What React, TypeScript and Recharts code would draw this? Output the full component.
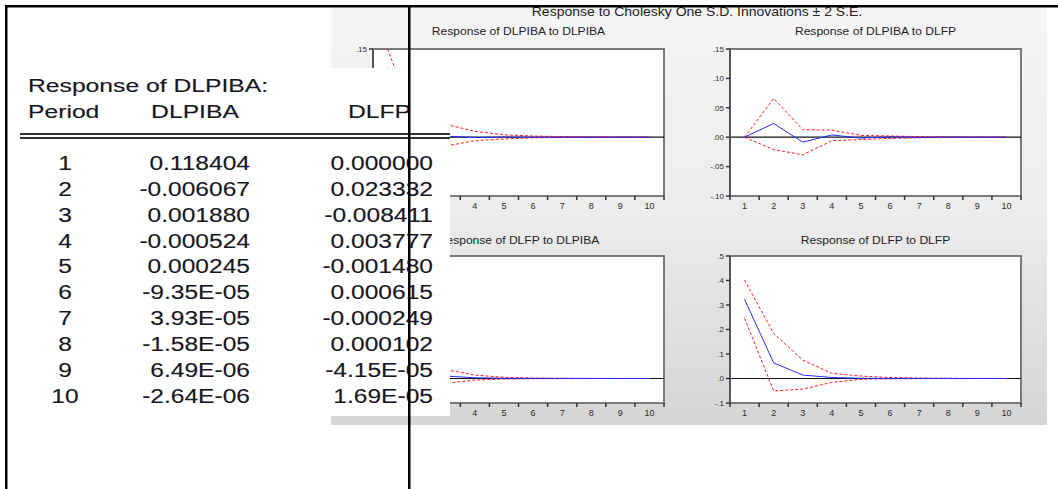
import React from 'react'
import { CartesianGrid, Line, LineChart, ReferenceArea, ReferenceLine, XAxis, YAxis } from 'recharts'

const periods = [1, 2, 3, 4, 5, 6, 7, 8, 9, 10]

// Response of DLPIBA (table columns, also the blue lines of the top row)
const dlpibaToDlpiba = [0.118404, -0.006067, 0.00188, -0.000524, 0.000245, -9.35e-5, 3.93e-5, -1.58e-5, 6.49e-6, -2.64e-6]
const dlpibaToDlfp = [0.0, 0.023332, -0.008411, 0.003777, -0.00148, 0.000615, -0.000249, 0.000102, -4.15e-5, 1.69e-5]

// +/- 2 S.E. bands
const dlpibaToDlpibaHi = [0.15, 0.022, 0.022, 0.01, 0.004, 0.002, 0.001, 0.0005, 0.0002, 0.0001]
const dlpibaToDlpibaLo = [0.086, -0.03, -0.015, -0.006, -0.003, -0.001, -0.0005, -0.0002, -0.0001, -0.0001]
const dlpibaToDlfpHi = [0.0, 0.066, 0.013, 0.012, 0.003, 0.002, 0.001, 0.0005, 0.0003, 0.0001]
const dlpibaToDlfpLo = [0.0, -0.021, -0.03, -0.006, -0.004, -0.002, -0.001, -0.0005, -0.0003, -0.0001]

const dlfpToDlpiba = [0.062, 0.04, 0.01, 0.003, 0.001, 0.0004, 0.0002, 0.0001, 0.0, 0.0]
const dlfpToDlpibaHi = [0.15, 0.1, 0.036, 0.014, 0.005, 0.002, 0.001, 0.0005, 0.0002, 0.0001]
const dlfpToDlpibaLo = [-0.02, -0.012, -0.02, -0.006, -0.002, -0.001, -0.0005, -0.0002, -0.0001, -0.0001]
const dlfpToDlfp = [0.323, 0.064, 0.014, 0.004, 0.001, 0.0004, 0.0002, 0.0001, 0.0, 0.0]
const dlfpToDlfpHi = [0.402, 0.184, 0.075, 0.021, 0.01, 0.004, 0.002, 0.001, 0.0005, 0.0002]
const dlfpToDlfpLo = [0.246, -0.051, -0.043, -0.016, -0.003, -0.001, -0.0005, -0.0002, -0.0001, 0.0]

const dlpibaTicks = [-0.1, -0.05, 0, 0.05, 0.1, 0.15]
const dlfpTicks = [-0.1, 0, 0.1, 0.2, 0.3, 0.4, 0.5]

const mainTitle = 'Response to Cholesky One S.D. Innovations \u00b1 2 S.E.'
const tableTitle = 'Response of DLPIBA:'
const tableHeaders = ['Period', 'DLPIBA', 'DLFP']

const PLOT_W = 291
const PLOT_H = 147
const PAD_L = 40
const PAD_R = 4
const PAD_T = 4
const PAD_B = 24
const FRAME = '#7a7a7a'
const FONT = '"Liberation Sans", Arial, sans-serif'
const INK = '#17171f'

const xTicks = [...periods.flatMap(p => [p - 0.5, p]), periods[periods.length - 1] + 0.5]

function fmtAxis(digits: number) {
  return (v: number) => Number(v).toFixed(digits).replace('0.', '.')
}

function fmtCell(v: number): string {
  if (v === 0 || Math.abs(v) >= 1e-4) return v.toFixed(6)
  const [m, e] = v.toExponential(2).split('e')
  const n = Number(e)
  return `${m}E${n < 0 ? '-' : '+'}${String(Math.abs(n)).padStart(2, '0')}`
}

function PeriodTick(props: any) {
  const { x, y, payload } = props
  const v = Number(payload.value)
  if (Number.isInteger(v)) {
    return (
      <text x={x} y={y + 13} textAnchor="middle" fontSize={9} fill="#2a2a2a">
        {v}
      </text>
    )
  }
  return <line x1={x} y1={y} x2={x} y2={y + 4} stroke="#333" strokeWidth={1.5} />
}

type PanelProps = {
  left: number
  top: number
  resp: number[]
  hi: number[]
  lo: number[]
  ticks: number[]
  digits: number
}

function IrfPanel({ left, top, resp, hi, lo, ticks, digits }: PanelProps) {
  const data = periods.map((p, i) => ({ period: p, resp: resp[i], hi: hi[i], lo: lo[i] }))
  const domain: [number, number] = [ticks[0], ticks[ticks.length - 1]]
  return (
    <div style={{ position: 'absolute', left: left - PAD_L, top: top - PAD_T }}>
      <LineChart
        width={PLOT_W + PAD_L + PAD_R}
        height={PLOT_H + PAD_T + PAD_B}
        data={data}
        margin={{ top: PAD_T, right: PAD_R, bottom: 0, left: 0 }}
      >
        <CartesianGrid fill="#fff" fillOpacity={1} horizontal={false} vertical={false} />
        <XAxis
          type="number"
          dataKey="period"
          domain={[0.5, 10.5]}
          ticks={xTicks}
          interval={0}
          tickSize={0}
          tickMargin={0}
          tickLine={false}
          tick={(p: any) => <PeriodTick {...p} />}
          axisLine={{ stroke: FRAME, strokeWidth: 2 }}
          height={PAD_B}
          allowDataOverflow
        />
        <YAxis
          type="number"
          domain={domain}
          ticks={ticks}
          interval={0}
          tickFormatter={fmtAxis(digits)}
          width={PAD_L}
          tickSize={4}
          tickMargin={2}
          tick={{ fontSize: 8, fill: '#2a2a2a' }}
          tickLine={{ stroke: '#333', strokeWidth: 1.5 }}
          axisLine={{ stroke: '#555', strokeWidth: 2 }}
          allowDataOverflow
        />
        <ReferenceArea x1={0.5} x2={10.5} y1={domain[0]} y2={domain[1]} fill="none" stroke={FRAME} strokeWidth={2} />
        <ReferenceLine y={0} stroke="#111" strokeWidth={1.2} />
        <Line type="linear" dataKey="hi" stroke="#ff1a1a" strokeWidth={1} strokeDasharray="3 2" dot={false} isAnimationActive={false} />
        <Line type="linear" dataKey="lo" stroke="#ff1a1a" strokeWidth={1} strokeDasharray="3 2" dot={false} isAnimationActive={false} />
        <Line type="linear" dataKey="resp" stroke="#2a2aff" strokeWidth={1} dot={false} isAnimationActive={false} />
      </LineChart>
    </div>
  )
}

const panels = [
  { title: 'Response of DLPIBA to DLPIBA', left: 373, top: 49, titleY: 35, resp: dlpibaToDlpiba, hi: dlpibaToDlpibaHi, lo: dlpibaToDlpibaLo, ticks: dlpibaTicks, digits: 2 },
  { title: 'Response of DLPIBA to DLFP', left: 730, top: 49, titleY: 35, resp: dlpibaToDlfp, hi: dlpibaToDlfpHi, lo: dlpibaToDlfpLo, ticks: dlpibaTicks, digits: 2 },
  { title: 'Response of DLFP to DLPIBA', left: 373, top: 256, titleY: 244, resp: dlfpToDlpiba, hi: dlfpToDlpibaHi, lo: dlfpToDlpibaLo, ticks: dlfpTicks, digits: 1 },
  { title: 'Response of DLFP to DLFP', left: 730, top: 256, titleY: 244, resp: dlfpToDlfp, hi: dlfpToDlfpHi, lo: dlfpToDlfpLo, ticks: dlfpTicks, digits: 1 },
]

const ROW_BASE = 170
const ROW_STEP = 25.85

export default function App() {
  return (
    <div
      style={{
        position: 'absolute',
        left: 0,
        top: 0,
        width: 1058,
        height: 489,
        overflow: 'hidden',
        background: '#fff',
        fontFamily: FONT,
      }}
    >
      {/* EViews graph background and titles */}
      <svg width={1058} height={489} style={{ position: 'absolute', left: 0, top: 0 }}>
        <defs>
          <linearGradient id="panelBg" x1="0" y1="0" x2="0" y2="1">
            <stop offset="0" stopColor="#f5f5f5" />
            <stop offset="0.5" stopColor="#ececec" />
            <stop offset="1" stopColor="#d5d5d5" />
          </linearGradient>
        </defs>
        <rect x={331} y={8} width={716} height={417} fill="url(#panelBg)" />
        <text transform="translate(697,15.5) scale(1.12,1)" textAnchor="middle" fontSize={12.5} fill="#222">
          {mainTitle}
        </text>
        {panels.map(p => (
          <text
            key={p.title}
            transform={`translate(${p.left + PLOT_W / 2},${p.titleY}) scale(1.1,1)`}
            textAnchor="middle"
            fontSize={11}
            fill="#222"
          >
            {p.title}
          </text>
        ))}
      </svg>

      {panels.map(p => (
        <IrfPanel key={p.title} {...p} />
      ))}

      {/* Word table pasted over the graph */}
      <svg width={1058} height={489} style={{ position: 'absolute', left: 0, top: 0 }}>
        <rect x={7} y={68} width={443} height={348} fill="#fff" />
        <g fill={INK} stroke={INK} strokeWidth={0.15}>
          <text transform="translate(28,92) scale(1.3,1)" fontSize={19}>{tableTitle}</text>
          <text transform="translate(28,118) scale(1.3,1)" fontSize={19}>{tableHeaders[0]}</text>
          <text transform="translate(195,118) scale(1.3,1)" fontSize={19} textAnchor="middle">{tableHeaders[1]}</text>
          <text transform="translate(348,118) scale(1.3,1)" fontSize={19}>{tableHeaders[2]}</text>
          {periods.map((p, i) => {
            const y = ROW_BASE + i * ROW_STEP
            return (
              <g key={p}>
                <text transform={`translate(65,${y}) scale(1.17,1)`} fontSize={21} textAnchor="middle">{p}</text>
                <text transform={`translate(250,${y}) scale(1.17,1)`} fontSize={21} textAnchor="end">{fmtCell(dlpibaToDlpiba[i])}</text>
                <text transform={`translate(433,${y}) scale(1.17,1)`} fontSize={21} textAnchor="end">{fmtCell(dlpibaToDlfp[i])}</text>
              </g>
            )
          })}
        </g>
        <rect x={20} y={133} width={430} height={2} fill="#333" />
        <rect x={20} y={137} width={430} height={2} fill="#333" />
        {/* page borders */}
        <rect x={5} y={5} width={1053} height={2.5} fill="#000" />
        <rect x={5} y={5} width={2.5} height={484} fill="#000" />
        <rect x={408} y={5} width={2.5} height={484} fill="#000" />
      </svg>
    </div>
  )
}
